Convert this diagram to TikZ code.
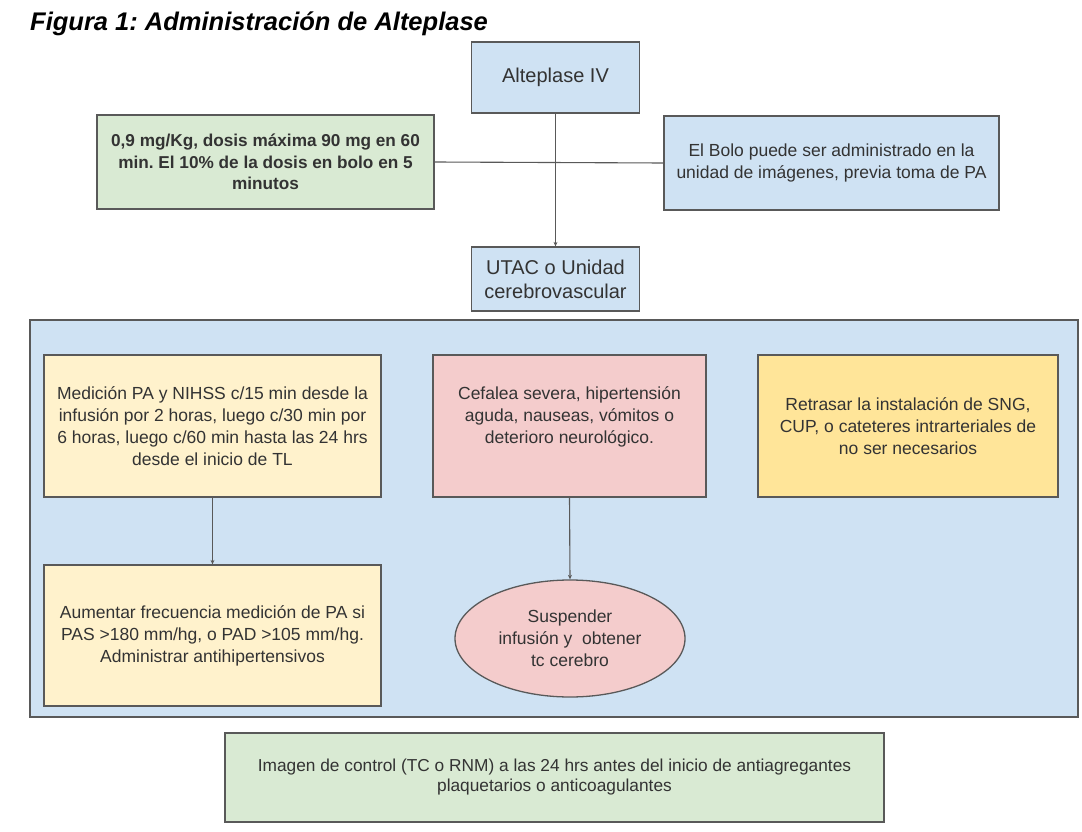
\documentclass[tikz,border=0pt]{standalone}
\usepackage{fontspec}
\setmainfont{Liberation Sans}
\usetikzlibrary{arrows.meta,shapes.geometric}
\definecolor{gfill}{HTML}{D9EAD3}
\definecolor{bfill}{HTML}{CFE2F3}
\definecolor{yfill}{HTML}{FFF2CC}
\definecolor{pfill}{HTML}{F4CCCC}
\definecolor{ofill}{HTML}{FFE599}
\definecolor{bord}{HTML}{595959}
\definecolor{txt}{HTML}{333333}
\frenchspacing
\begin{document}
\begin{tikzpicture}[x=1pt,y=-1pt,
  box/.style={draw=bord, line width=1.3pt, align=center, inner sep=0pt, text=txt,
    font=\fontsize{17.5}{22}\selectfont},
  conn/.style={draw=bord, line width=1.1pt},
  arr/.style={conn, -{Stealth[length=4.5pt,width=4pt]}}]
\useasboundingbox (0,0) rectangle (1082,832);
\fill[white] (0,0) rectangle (1082,832);
\node[anchor=base west, inner sep=0pt, font=\bfseries\itshape\fontsize{25.5}{30}\selectfont] (title) at (30,31) {Figura 1: Administración de Alteplase};
% top part
\node[box, fill=bfill, minimum width=168pt, minimum height=71pt, font=\fontsize{20}{24}\selectfont] (alt) at (555.5,77.5) {Alteplase IV};
\node[box, fill=gfill, minimum width=337pt, minimum height=94pt, font=\bfseries\fontsize{17.2}{21.5}\selectfont] (dose) at (265.5,162) {0,9 mg/Kg, dosis máxima 90 mg en 60\\min. El 10\% de la dosis en bolo en 5\\minutos};
\node[box, fill=bfill, minimum width=335pt, minimum height=94pt, font=\fontsize{17.5}{22}\selectfont] (bolo) at (831.5,163) {El Bolo puede ser administrado en la\\unidad de imágenes, previa toma de PA};
\node[box, fill=bfill, minimum width=168pt, minimum height=64pt, font=\fontsize{20}{24}\selectfont] (utac) at (555.5,279) {UTAC o Unidad\\cerebrovascular};
\draw[conn] (dose.east) -- (bolo.west);
\draw[arr] (alt.south) -- (utac.north);
% big panel
\node[draw=bord, line width=1.3pt, fill=bfill, minimum width=1048pt, minimum height=397pt, inner sep=0pt] (panel) at (554,518.5) {};
\node[box, fill=yfill, minimum width=337pt, minimum height=142pt] (med) at (212.5,426) {Medición PA y NIHSS c/15 min desde la\\infusión por 2 horas, luego c/30 min por\\6 horas, luego c/60 min hasta las 24 hrs\\desde el inicio de TL};
\node[box, fill=pfill, minimum width=273pt, minimum height=142pt] (cef) at (569.5,426) {};
\node[align=center, text=txt, font=\fontsize{17.5}{22}\selectfont, inner sep=0pt] (ceft) at (569.5,417) {Cefalea severa, hipertensión\\aguda, nauseas, vómitos o\\deterioro neurológico.};
\node[box, fill=ofill, minimum width=300pt, minimum height=142pt] (ret) at (908,426) {Retrasar la instalación de SNG,\\CUP, o cateteres intrarteriales de\\no ser necesarios};
\node[box, fill=yfill, minimum width=337pt, minimum height=141pt] (aum) at (212.5,635.5) {Aumentar frecuencia medición de PA si\\PAS >180 mm/hg, o PAD >105 mm/hg.\\Administrar antihipertensivos};
\node[box, ellipse, fill=pfill, minimum width=230pt, minimum height=117pt] (sus) at (570,638.5) {Suspender\\infusión y\ \ obtener\\tc cerebro};
\draw[arr] (med.south) -- (aum.north);
\draw[arr] (cef.south) -- (sus.north);
% bottom
\node[box, fill=gfill, minimum width=659pt, minimum height=89pt, font=\fontsize{17.3}{20}\selectfont] (img) at (554.5,777.5) {Imagen de control (TC o RNM) a las 24 hrs antes del inicio de antiagregantes\\plaquetarios o anticoagulantes};
\end{tikzpicture}
\end{document}
